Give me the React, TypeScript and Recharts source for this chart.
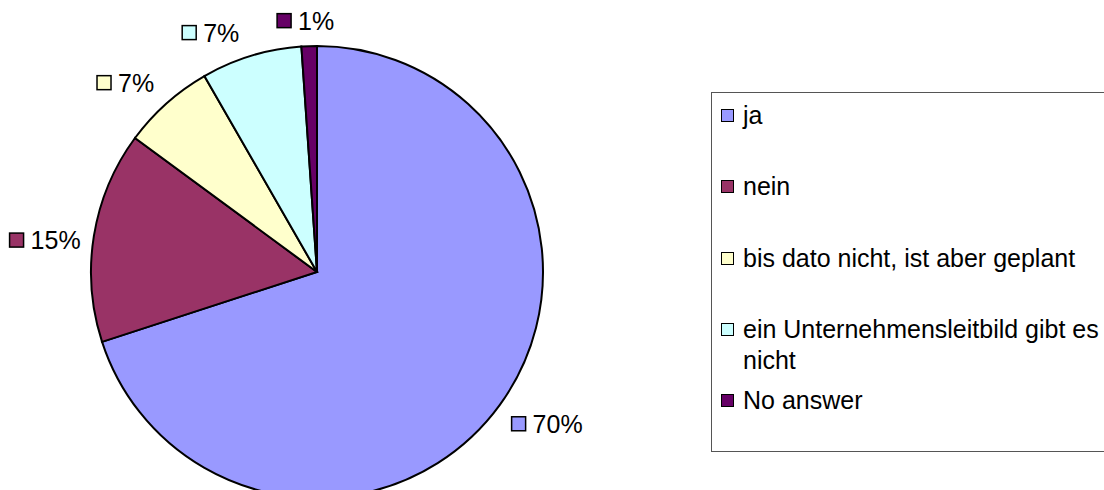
import { PieChart, Pie, Cell, Legend } from 'recharts';

const categories = ['ja', 'nein', 'bis dato nicht, ist aber geplant', 'ein Unternehmensleitbild gibt es nicht', 'No answer'];
const shares = [70.0, 15.1, 6.6, 7.2, 1.1];
const colors = ['#9999FF', '#993366', '#FFFFCC', '#CCFFFF', '#660066'];

// small hand tweaks so the outside labels sit where the original put them
const labelNudge = [
  [4, 1],
  [4, 9],
  [-10, 2],
  [-27, 6],
  [-2, 5],
];

const FONT = '"Liberation Sans", Arial, Helvetica, sans-serif';
const RADIAN = Math.PI / 180;

const data = categories.map((name, i) => ({ name, value: shares[i], color: colors[i] }));

function SliceLabel({ cx, cy, midAngle, outerRadius, index, value }: any) {
  const text = `${Math.round(value)}%`;
  const textW = text.length === 2 ? 36 : 50;
  const w = 21 + textW;
  const h = 25;
  const cos = Math.cos(-midAngle * RADIAN);
  const sin = Math.sin(-midAngle * RADIAN);
  const r = outerRadius + 18;
  const px = cx + r * cos;
  const py = cy + r * sin;
  const bx = px + (cos * w) / 2 + labelNudge[index][0];
  const by = py + (sin * h) / 2 + labelNudge[index][1];
  const left = bx - w / 2;
  return (
    <g>
      <rect x={left} y={by - 7} width={14} height={14} fill={colors[index]} stroke="#000" strokeWidth={1.5} />
      <text x={left + 21} y={by + 9} fontSize={25} fontFamily={FONT} fill="#000">
        {text}
      </text>
    </g>
  );
}

function LegendBox() {
  return (
    <div
      style={{
        position: 'relative',
        width: 420,
        height: 360,
        border: '1.5px solid #555',
        boxSizing: 'border-box',
        background: '#fff',
        fontFamily: FONT,
        fontSize: 25,
        color: '#000',
      }}
    >
      {data.map((d, i) => (
        <div key={d.name} style={{ position: 'absolute', left: 9, top: 7 + i * 71.25, display: 'flex' }}>
          <div
            style={{
              width: 13,
              height: 13,
              marginTop: 9,
              background: d.color,
              border: '1.5px solid #000',
              boxSizing: 'border-box',
              flexShrink: 0,
            }}
          />
          <div style={{ marginLeft: 9, width: 375, lineHeight: '31px' }}>{d.name}</div>
        </div>
      ))}
    </div>
  );
}

export default function App() {
  return (
    <div style={{ position: 'absolute', left: 0, top: 0, width: 1104, height: 490, overflow: 'hidden', background: '#fff' }}>
      <PieChart width={1104} height={490} margin={{ top: 0, right: 0, bottom: 0, left: 0 }}>
        <Pie
          data={data}
          dataKey="value"
          nameKey="name"
          cx={317}
          cy={272}
          outerRadius={226}
          startAngle={90}
          endAngle={-270}
          stroke="#000"
          strokeWidth={2}
          label={SliceLabel}
          labelLine={false}
          isAnimationActive={false}
        >
          {data.map((d) => (
            <Cell key={d.name} fill={d.color} />
          ))}
        </Pie>
        <Legend
          layout="vertical"
          align="right"
          verticalAlign="top"
          content={<LegendBox />}
          wrapperStyle={{ position: 'absolute', left: 711, top: 92, width: 420, height: 360 }}
        />
      </PieChart>
    </div>
  );
}
